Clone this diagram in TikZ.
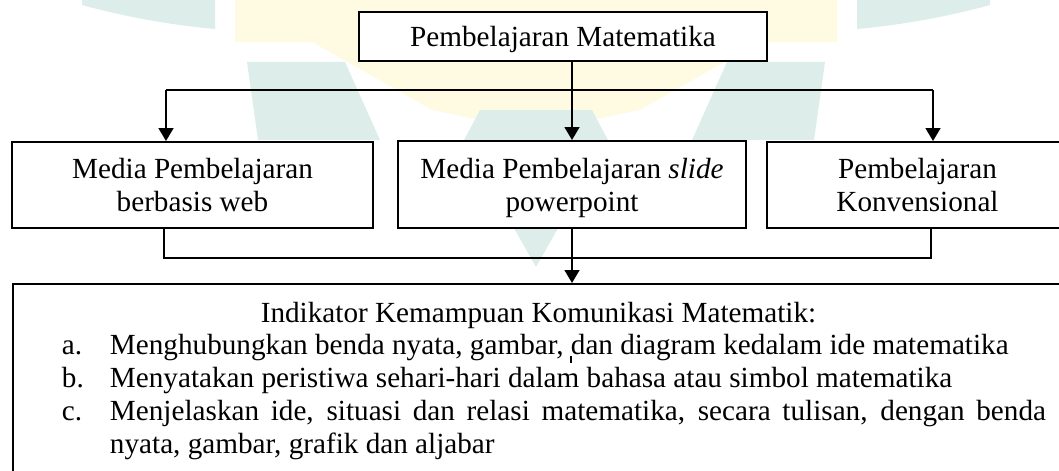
\documentclass[tikz,border=0pt]{standalone}
\usepackage{fontspec}
\setmainfont{Liberation Serif}
\usetikzlibrary{arrows.meta}
\newdimen\pxu \pxu=0.4333pt
\definecolor{wmteal}{HTML}{DDEDEA}
\definecolor{wmyellow}{HTML}{FFFBE3}
\tikzset{
  kotak/.style={draw,fill=white,inner sep=0pt,align=center,text depth=0pt,font=\fontsize{12.65}{14.3}\selectfont},
  teks/.style={inner sep=0pt,anchor=base west,font=\fontsize{12.65}{14.3}\selectfont},
  panah/.style={-{Triangle[length=5.6pt,width=6.4pt]}},
}
\begin{document}
\begin{tikzpicture}[x=0.4333pt,y=-0.4333pt,line width=0.85pt]
	\useasboundingbox(0,0)rectangle(1059,470);
	% watermark
	\fill[wmteal](82,0)--(215,0)--(215,29)..controls(160,24)and(115,14)..(82,5)--cycle;
	\fill[wmteal](990,0)--(857,0)--(857,29)..controls(912,24)and(957,14)..(990,5)--cycle;
	\fill[wmyellow](235,0)--(837,0)--(837,42)--(760,42)--(640,110)--(536,132)--(432,110)--(312,42)--(235,42)--cycle;
	\fill[wmteal](247,62)--(345,62)--(380,140)--(258,140)--cycle;
	\fill[wmteal](825,62)--(727,62)--(692,140)--(814,140)--cycle;
	\fill[wmteal](480,110)--(592,110)--(608,140)--(536,267)--(464,140)--cycle;
	% boxes
	\node(top)[kotak,minimum width=408\pxu,minimum height=49\pxu]at(563,36.5){Pembelajaran Matematika};
	\node(web)[kotak,minimum width=361\pxu,minimum height=86\pxu]at(192.5,185){Media Pembelajaran\\berbasis web};
	\node(ppt)[kotak,minimum width=348\pxu,minimum height=87\pxu]at(572,184.5){Media Pembelajaran \textit{slide}\\powerpoint};
	\node(konv)[kotak,minimum width=301\pxu,minimum height=86\pxu]at(917.5,185){Pembelajaran\\Konvensional};
	\node(ind)[draw,fill=white,inner sep=0pt,anchor=north west,minimum width=1056\pxu,minimum height=220\pxu]at(12,283){};
	\node(judul)[teks,anchor=base]at(538.5,322){Indikator Kemampuan Komunikasi Matematik:};
	\node(la)[teks]at(61,354){a.};
	\node(lb)[teks]at(61,387){b.};
	\node(lc)[teks]at(61,420){c.};
	\node(ia)[teks]at(109,354){Menghubungkan benda nyata, gambar, dan diagram kedalam ide matematika};
	\node(ib)[teks]at(109,387){Menyatakan peristiwa sehari-hari dalam bahasa atau simbol matematika};
	\node(ic)[teks]at(109,420){\makebox[936\pxu][s]{Menjelaskan ide, situasi dan relasi matematika, secara tulisan, dengan benda}};
	\node(ic2)[teks]at(109,453){nyata, gambar, grafik dan aljabar};
	% connectors
	\coordinate(bl)at(166,90);
	\coordinate(br)at(933,90);
	\coordinate(jl)at(164,258);
	\coordinate(jr)at(931,258);
	\draw(bl)--(br);
	\draw[panah](bl)--(bl|-web.north);
	\draw[panah](br)--(br|-konv.north);
	\draw[panah](top.south-|ppt.north)--(ppt.north);
	\draw(web.south-|jl)--(jl)--(jr)--(konv.south-|jr);
	\draw[panah](ppt.south)--(ppt.south|-ind.north);
	\draw[line width=0.5pt](571,356)--(571,363);
\end{tikzpicture}
\end{document}
